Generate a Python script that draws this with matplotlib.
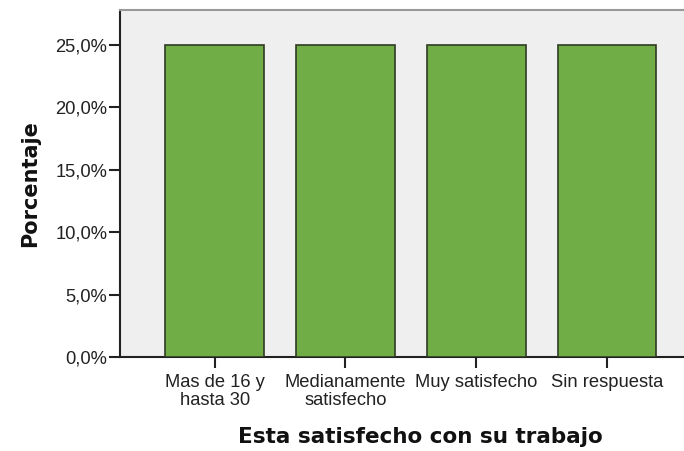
import matplotlib
matplotlib.use("Agg")
import matplotlib.pyplot as plt
from matplotlib.ticker import FuncFormatter

categories = ["Mas de 16 y\nhasta 30", "Medianamente\nsatisfecho", "Muy satisfecho", "Sin respuesta"]
values = [25.0, 25.0, 25.0, 25.0]
yticks = [0, 5, 10, 15, 20, 25]

plt.rcParams['font.family'] = ['Liberation Sans', 'DejaVu Sans']

fig = plt.figure(figsize=(6.84, 4.51), dpi=100)
ax = fig.add_axes([120/684, 1-357/451, 1-120/684, (357-10)/451])
ax.set_facecolor('#EFEFEF')

x = list(range(len(categories)))
ax.bar(x, values, width=0.755, color='#70AD47', edgecolor='#2E3B24', linewidth=1.2, zorder=3)

ax.set_xlim(-0.725, 3.59)
ax.set_ylim(0, 27.8)
ax.set_yticks(yticks)
ax.yaxis.set_major_formatter(FuncFormatter(lambda v, p: f"{v:.1f}".replace('.', ',') + '%'))
ax.set_xticks(x)
ax.set_xticklabels(categories, fontsize=13.2, linespacing=1.05)
ax.tick_params(axis='y', labelsize=13.2, length=8, width=1.5, pad=1, colors='#222222')
ax.tick_params(axis='x', length=8, width=1.5, pad=4.5, colors='#222222')

for s in ['left', 'bottom']:
    ax.spines[s].set_color('#222222')
    ax.spines[s].set_linewidth(1.5)
ax.spines['top'].set_color('#999999')
ax.spines['top'].set_linewidth(1.5)
ax.spines['right'].set_visible(False)

fig.text(30/684, 1-184/451, 'Porcentaje', rotation=90, fontsize=15, fontweight='bold',
         family='DejaVu Sans', ha='center', va='center', color='#111111')
fig.text(420/684, 1-437/451, 'Esta satisfecho con su trabajo', fontsize=15.5, fontweight='bold',
         family='DejaVu Sans', ha='center', va='center', color='#111111')

fig.savefig('out.png', dpi=100)
